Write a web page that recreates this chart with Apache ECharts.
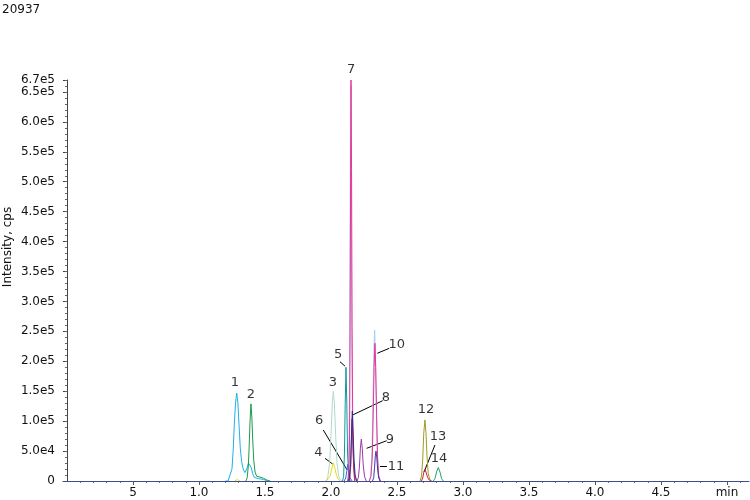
<!DOCTYPE html>
<html>
<head>
<meta charset="utf-8">
<script src="https://cdn.jsdelivr.net/npm/echarts@6/dist/echarts.min.js"></script>
<style>
  html, body { margin: 0; padding: 0; background: #fff; }
  #main { width: 750px; height: 500px; }
</style>
</head>
<body>
<div id="main"></div>
<script>
// retention time (min) / intensity (cps) pairs
var trace1 = [[1.20,0],[1.22,0],[1.232,3000],[1.25,20000],[1.259,50000],[1.268,95000],[1.277,130000],[1.286,147000],[1.295,130000],[1.304,92000],[1.313,55000],[1.323,33000],[1.335,20000],[1.348,14000],[1.362,20000],[1.375,30000],[1.386,32000],[1.397,22000],[1.407,12000],[1.42,6000],[1.45,4000],[1.49,2500],[1.52,0]];
var trace2 = [[1.355,0],[1.365,5000],[1.374,25000],[1.38,55000],[1.387,100000],[1.394,129000],[1.401,105000],[1.408,65000],[1.415,35000],[1.425,15000],[1.437,8000],[1.45,7000],[1.47,6000],[1.49,4500],[1.51,2000],[1.54,0]];
var trace3 = [[1.96,0],[1.975,5000],[1.99,30000],[2.0,75000],[2.01,130000],[2.018,150000],[2.026,130000],[2.036,75000],[2.046,30000],[2.058,8000],[2.07,2000],[2.09,0]];
var trace4a = [[1.27,0],[1.29,2500],[1.31,0]];
var trace4 = [[1.965,0],[1.98,2000],[1.995,9000],[2.005,20000],[2.018,30000],[2.03,21000],[2.042,9000],[2.055,3000],[2.07,0]];
var trace5 = [[2.088,0],[2.096,8000],[2.102,45000],[2.108,130000],[2.114,190000],[2.12,130000],[2.126,45000],[2.134,10000],[2.145,0]];
var trace6 = [[2.10,0],[2.112,5000],[2.121,18000],[2.128,28000],[2.135,18000],[2.145,5000],[2.16,0]];
var traceBlue7 = [[2.126,0],[2.134,20000],[2.139,100000],[2.143,300000],[2.147,560000],[2.150,660000],[2.154,480000],[2.158,220000],[2.164,60000],[2.175,8000],[2.19,0]];
var traceBlue10 = [[2.29,0],[2.302,10000],[2.311,50000],[2.318,130000],[2.325,215000],[2.331,252000],[2.337,205000],[2.344,120000],[2.351,45000],[2.36,10000],[2.372,0]];
var trace7 = [[2.128,0],[2.136,15000],[2.141,80000],[2.145,250000],[2.149,520000],[2.152,670000],[2.156,520000],[2.160,260000],[2.165,90000],[2.172,25000],[2.182,5000],[2.2,0]];
var trace10 = [[2.29,0],[2.303,8000],[2.313,40000],[2.32,110000],[2.327,190000],[2.333,230000],[2.339,190000],[2.346,110000],[2.353,40000],[2.362,8000],[2.375,0]];
var trace8 = [[2.13,0],[2.14,6000],[2.149,30000],[2.155,75000],[2.162,117000],[2.168,80000],[2.175,35000],[2.183,10000],[2.195,0]];
var trace8red = [[2.14,0],[2.15,25000],[2.156,75000],[2.16,104000],[2.165,75000],[2.172,25000],[2.18,0]];
var trace9 = [[2.198,0],[2.208,6000],[2.216,25000],[2.223,55000],[2.23,70000],[2.237,55000],[2.245,25000],[2.255,7000],[2.268,0]];
var trace11 = [[2.315,0],[2.324,6000],[2.33,22000],[2.336,42000],[2.341,50000],[2.347,40000],[2.354,18000],[2.362,5000],[2.372,0]];
var trace12 = [[2.675,0],[2.686,8000],[2.695,35000],[2.703,80000],[2.712,102000],[2.72,80000],[2.728,40000],[2.737,12000],[2.75,2000],[2.762,0]];
var trace13 = [[2.685,0],[2.695,5000],[2.704,15000],[2.712,20000],[2.72,15000],[2.732,6000],[2.745,1500],[2.762,0]];
var trace14 = [[2.775,0],[2.788,4000],[2.8,15000],[2.813,22500],[2.826,15000],[2.838,4000],[2.851,0]];

// peak numbers: text, time, intensity of the label
var peakLabels = [
  ['1', 1.273, 165000], ['2', 1.394, 143700], ['3', 2.015, 164200], ['4', 1.904, 48000],
  ['5', 2.055, 211700], ['6', 1.911, 100800], ['7', 2.152, 686700], ['8', 2.417, 138700],
  ['9', 2.447, 68500], ['10', 2.498, 227200], ['11', 2.492, 23900], ['12', 2.72, 118600],
  ['13', 2.811, 73500], ['14', 2.818, 36800]
];
// leader lines: from (t, v) to (t, v)
var leaders = [
  [1.955, 37900, 2.013, 28400],
  [2.068, 199300, 2.106, 192000],
  [1.942, 85200, 2.123, 18400],
  [2.392, 134200, 2.164, 110300],
  [2.422, 67300, 2.27, 54600],
  [2.442, 221700, 2.351, 213400],
  [2.371, 23900, 2.424, 23900],
  [2.788, 60200, 2.705, 15000]
];

var xTickValues = [0.5, 1.0, 1.5, 2.0, 2.5, 3.0, 3.5, 4.0, 4.5, 5.0];
var xTickLabels = ['5', '1.0', '1.5', '2.0', '2.5', '3.0', '3.5', '4.0', '4.5', 'min'];
var yTickValues = [0, 50000, 100000, 150000, 200000, 250000, 300000, 350000, 400000, 450000, 500000, 550000, 600000, 650000, 670000];
var yTickLabels = ['0', '5.0e4', '1.0e5', '1.5e5', '2.0e5', '2.5e5', '3.0e5', '3.5e5', '4.0e5', '4.5e5', '5.0e5', '5.5e5', '6.0e5', '6.5e5', '6.7e5'];

var X_MIN = -0.03, X_MAX = 5.167, Y_MAX = 670000;
var FONT = '"DejaVu Sans", Verdana, sans-serif';

var xMinor = [];
for (var i = 1; i <= 51; i++) xMinor.push(i / 10);
var yMinor = [];
for (var j = 1; j <= 67; j++) yMinor.push(j * 10000);

// drawing order: later entries on top
var traces = [
  { data: trace3, color: '#b3d8cb' },
  { data: trace4a, color: '#e4dc1e' },
  { data: trace4, color: '#e4dc1e' },
  { data: trace1, color: '#1cb2e6' },
  { data: trace2, color: '#1c9a4e' },
  { data: traceBlue7, color: '#a4cdec' },
  { data: traceBlue10, color: '#a4cdec' },
  { data: trace5, color: '#0f979f' },
  { data: trace6, color: '#3a68d6' },
  { data: trace7, color: '#e8339a' },
  { data: trace10, color: '#e8339a' },
  { data: trace8red, color: '#c8283a' },
  { data: trace8, color: '#2b2f9c' },
  { data: trace9, color: '#9a3aa8' },
  { data: trace11, color: '#3c3c9c' },
  { data: trace12, color: '#a39a26' },
  { data: trace13, color: '#c8283a' },
  { data: trace14, color: '#22a266' }
];

var chart = echarts.init(document.getElementById('main'), null, { renderer: 'canvas' });

var series = traces.map(function (tr) {
  return {
    type: 'line',
    data: tr.data,
    symbol: 'none',
    silent: true,
    lineStyle: { width: 1, color: tr.color },
    itemStyle: { color: tr.color }
  };
});

series.push({
  type: 'lines',
  coordinateSystem: 'cartesian2d',
  silent: true,
  lineStyle: { color: '#000', width: 1, opacity: 1 },
  data: leaders.map(function (l) { return { coords: [[l[0], l[1]], [l[2], l[3]]] }; })
});

series.push({
  type: 'scatter',
  clip: false,
  silent: true,
  symbolSize: 1,
  itemStyle: { color: 'rgba(0,0,0,0)' },
  label: {
    show: true, position: 'inside', formatter: '{b}',
    color: '#000', fontSize: 13, fontFamily: FONT
  },
  data: peakLabels.map(function (p) { return { name: p[0], value: [p[1], p[2]] }; })
});

chart.setOption({
  animation: false,
  title: {
    text: '20937', left: 2, top: 4, padding: 0,
    textStyle: { fontSize: 12, fontWeight: 'normal', color: '#111', fontFamily: FONT }
  },
  graphic: [{
    type: 'text', x: 8, y: 247, rotation: Math.PI / 2,
    style: { text: 'Intensity, cps', fill: '#111', font: '12px ' + FONT, align: 'center', verticalAlign: 'middle' }
  }],
  grid: { left: 63, right: 1, top: 80, bottom: 19, outerBoundsMode: 'none' },
  xAxis: [{
    type: 'value', min: X_MIN, max: X_MAX, position: 'bottom', z: 10,
    axisLine: { show: true, lineStyle: { color: '#3f4a8f', width: 1 } },
    axisTick: { show: true, customValues: xTickValues, length: 4, lineStyle: { color: '#555' } },
    axisLabel: {
      customValues: xTickValues, margin: 6, color: '#111', fontSize: 12, fontFamily: FONT,
      formatter: function (v) {
        var k = xTickValues.findIndex(function (x) { return Math.abs(x - v) < 1e-6; });
        return k >= 0 ? xTickLabels[k] : '';
      }
    },
    splitLine: { show: false }
  }, {
    type: 'value', min: X_MIN, max: X_MAX, position: 'bottom',
    axisLine: { show: false },
    axisTick: { show: true, customValues: xMinor, length: 2, lineStyle: { color: '#777' } },
    axisLabel: { show: false },
    splitLine: { show: false }
  }],
  yAxis: [{
    type: 'value', min: 0, max: Y_MAX,
    axisLine: { show: true, lineStyle: { color: '#444', width: 1 } },
    axisTick: { show: true, customValues: yTickValues, length: 4, lineStyle: { color: '#444' } },
    axisLabel: {
      customValues: yTickValues, margin: 8, color: '#111', fontSize: 12, fontFamily: FONT,
      formatter: function (v) {
        var k = yTickValues.findIndex(function (y) { return Math.abs(y - v) < 1; });
        return k >= 0 ? yTickLabels[k] : '';
      }
    },
    splitLine: { show: false }
  }, {
    type: 'value', min: 0, max: Y_MAX, position: 'left',
    axisLine: { show: false },
    axisTick: { show: true, customValues: yMinor, length: 2, lineStyle: { color: '#666' } },
    axisLabel: { show: false },
    splitLine: { show: false }
  }],
  series: series
});
</script>
</body>
</html>
